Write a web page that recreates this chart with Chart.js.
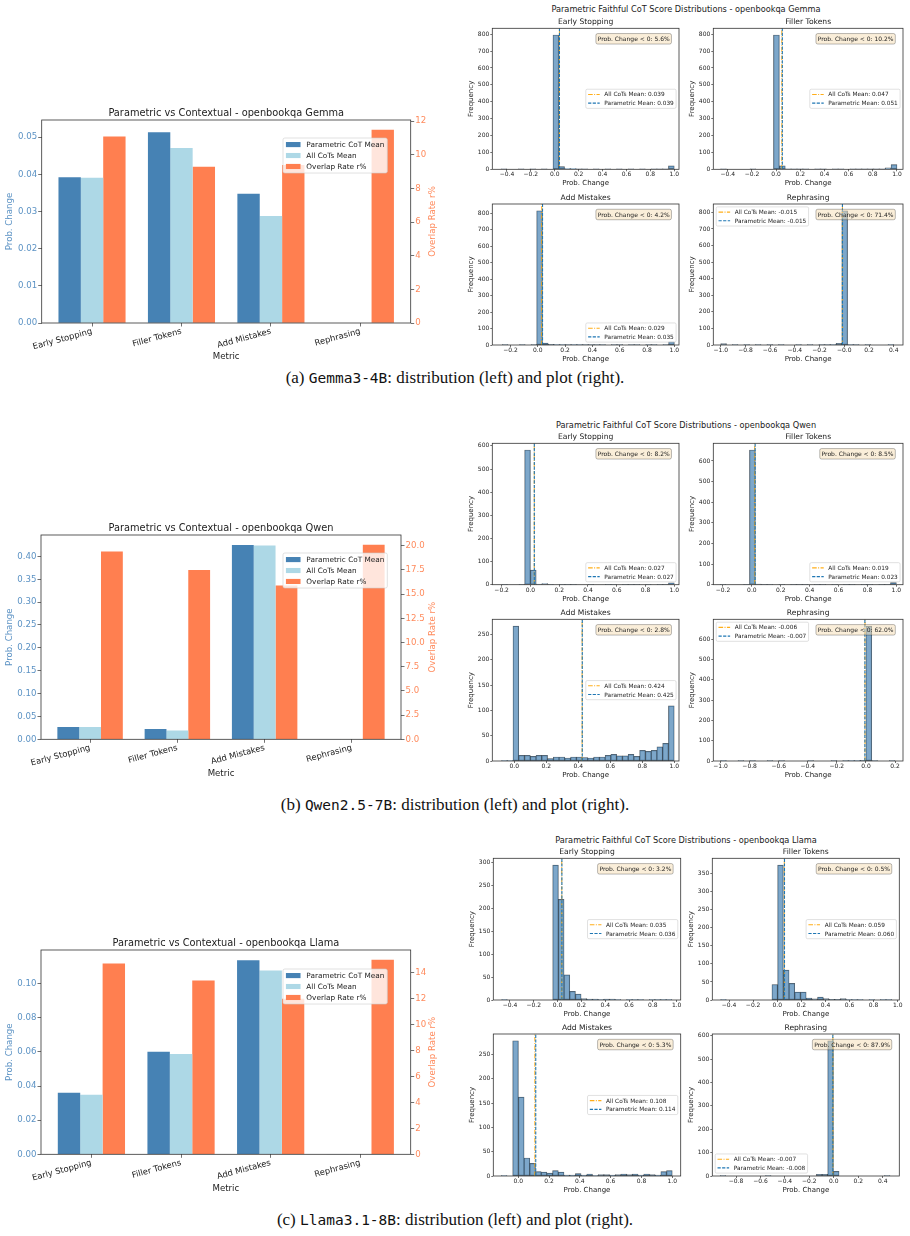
<!DOCTYPE html>
<html>
<head>
<meta charset="utf-8">
<script src="https://cdn.jsdelivr.net/npm/chart.js@4.4.0/dist/chart.umd.min.js"></script>
<style>
  body { margin: 0; background: #fff; width: 910px; height: 1236px; position: relative; overflow: hidden; }
  .sup { position: absolute; font: 8.2px "DejaVu Sans"; color: #222; white-space: nowrap; transform: translate(-50%, -50%); }
  .cap { position: absolute; left: 0; width: 910px; text-align: center; font: 17px "Liberation Serif"; line-height: 20px; color: #111; }
  .mono { font-family: "DejaVu Sans Mono"; font-size: 14.5px; }
</style>
</head>
<body>
<div class="sup" style="left:686px;top:9px">Parametric Faithful CoT Score Distributions - openbookqa Gemma</div>
<div class="sup" style="left:686px;top:425px">Parametric Faithful CoT Score Distributions - openbookqa Qwen</div>
<div class="sup" style="left:686px;top:840px">Parametric Faithful CoT Score Distributions - openbookqa Llama</div>
<div class="cap" style="top:368px">(a) <span class="mono">Gemma3-4B</span>: distribution (left) and plot (right).</div>
<div class="cap" style="top:795px">(b) <span class="mono">Qwen2.5-7B</span>: distribution (left) and plot (right).</div>
<div class="cap" style="top:1210px">(c) <span class="mono">Llama3.1-8B</span>: distribution (left) and plot (right).</div>

<script>
const metrics = ["Early Stopping", "Filler Tokens", "Add Mistakes", "Rephrasing"];

// means per metric (bar charts + mean lines of the histograms)
const gemmaParam = [0.0392, 0.0513, 0.0348, -0.0151];
const gemmaAll = [0.0391, 0.0471, 0.0288, -0.0149];
const gemmaOverlap = [11.1, 9.3, 9.4, 11.5];
const gemmaNeg = [5.6, 10.2, 4.2, 71.4];

const qwenParam = [0.0271, 0.0226, 0.4252, -0.0072];
const qwenAll = [0.0268, 0.0194, 0.4241, -0.0062];
const qwenOverlap = [19.4, 17.5, 15.9, 20.1];
const qwenNeg = [8.2, 8.5, 2.8, 62.0];

const llamaParam = [0.0361, 0.0601, 0.1137, -0.0078];
const llamaAll = [0.0349, 0.0588, 0.1078, -0.0072];
const llamaOverlap = [14.7, 13.4, 12.0, 15.0];
const llamaNeg = [3.2, 0.5, 5.3, 87.9];

// histogram counts, 30 bins each
const gemmaEarly = [1,0,0,1,0,1,0,1,0,795,16,5,5,1,1,0,1,0,1,0,1,0,1,0,1,0,1,1,1,20];
const gemmaFiller = [1,0,0,0,0,1,0,0,0,795,20,2,1,1,1,0,1,1,0,1,1,0,1,1,1,1,1,1,8,28];
const gemmaMistakes = [1,0,0,1,0,1,815,12,4,2,2,1,2,2,1,1,1,1,0,1,1,0,1,1,0,1,1,0,1,20];
const gemmaRephrase = [8,0,1,0,1,0,1,0,1,0,1,0,0,1,0,1,0,1,1,2,10,810,3,1,0,1,0,0,0,2];

const qwenEarly = [1,0,0,1,582,63,3,5,1,0,1,1,1,0,0,1,0,0,1,1,0,1,1,1,0,1,0,1,2,8];
const qwenFiller = [1,0,0,0,1,653,3,1,1,0,1,0,1,1,2,0,1,1,0,1,0,1,1,0,1,1,0,1,2,10];
const qwenMistakes = [1,1,267,11,11,9,11,11,5,8,8,6,8,8,7,6,8,8,11,13,10,10,13,9,21,19,21,28,35,109];
const qwenRephrase = [2,0,0,1,0,1,0,0,1,0,1,0,0,0,0,1,0,0,0,1,0,1,2,2,3,665,1,0,0,1];

const llamaEarly = [1,0,0,0,0,0,0,0,0,295,220,55,19,13,3,2,2,1,2,2,1,0,1,1,1,0,1,1,1,1];
const llamaFiller = [1,0,0,0,0,0,0,0,0,43,374,83,46,22,22,5,3,8,4,2,2,4,1,1,1,0,1,0,1,1];
const llamaMistakes = [1,0,278,162,37,26,9,8,6,11,8,2,2,5,2,4,1,3,3,2,3,4,3,4,2,4,3,2,9,11];
const llamaRephrase = [1,0,0,0,0,0,0,0,1,0,0,0,0,0,0,0,0,7,7,578,20,0,0,0,0,0,0,0,0,1];

// bin range and x limits of each histogram
const gemmaBinLo = [-0.45, -0.46, -0.26, -1.0];
const gemmaBinHi = [1.0, 1.0, 1.0, 0.4];
const gemmaXMin = [-0.523, -0.52, -0.333, -1.06];
const gemmaXMax = [1.04, 1.05, 1.034, 0.475];

const qwenBinLo = [-0.2, -0.22, -0.08, -1.0];
const qwenBinHi = [1.0, 1.0, 1.0, 0.2];
const qwenXMin = [-0.265, -0.267, -0.1375, -1.05];
const qwenXMax = [1.033, 1.046, 1.03, 0.255];

const llamaBinLo = [-0.47, -0.47, -0.11, -0.93];
const llamaBinHi = [0.96, 0.95, 1.0, 0.46];
const llamaXMin = [-0.54, -0.539, -0.162, -0.994];
const llamaXMax = [1.034, 1.013, 1.055, 0.536];

Chart.defaults.font.family = '"DejaVu Sans"';
Chart.defaults.color = "#222";

const DASHED = [3.2, 1.4];
const DASHDOT = [4.6, 1.4, 1, 1.4];

function makeCanvas(x, y, w, h) {
  const c = document.createElement("canvas");
  c.width = w;
  c.height = h;
  c.style.cssText = `position:absolute;left:${x}px;top:${y}px;width:${w}px;height:${h}px`;
  document.body.appendChild(c);
  return c;
}

function stepTicks(min, max, step) {
  const out = [];
  for (let k = Math.ceil(min / step - 1e-9); k * step <= max + 1e-9; k++) {
    out.push({ value: Math.round(k * step * 1e6) / 1e6 });
  }
  return out;
}

function roundRect(ctx, x, y, w, h, r) {
  ctx.beginPath();
  ctx.moveTo(x + r, y);
  ctx.arcTo(x + w, y, x + w, y + h, r);
  ctx.arcTo(x + w, y + h, x, y + h, r);
  ctx.arcTo(x, y + h, x, y, r);
  ctx.arcTo(x, y, x + w, y, r);
  ctx.closePath();
}

function drawLegend(ctx, area, lg) {
  const fs = lg.fs;
  ctx.font = `${fs}px "DejaVu Sans"`;
  const tw = Math.max(...lg.items.map(it => ctx.measureText(it.label).width));
  const bp = 0.4 * fs, hl = 2 * fs, hp = 0.8 * fs, rowH = fs, ls = 0.5 * fs, pad = 0.5 * fs;
  const w = 2 * bp + hl + hp + tw;
  const h = 2 * bp + lg.items.length * rowH + (lg.items.length - 1) * ls;
  let x, y;
  if (lg.pos) { x = lg.pos.x; y = lg.pos.y; }
  else {
    const loc = lg.loc;
    x = loc.endsWith("l") ? area.left + pad : area.right - pad - w;
    if (loc[0] === "u") y = area.top + pad;
    else if (loc[0] === "l") y = area.bottom - pad - h;
    else y = (area.top + area.bottom) / 2 - h / 2;
  }
  roundRect(ctx, x, y, w, h, 0.25 * fs);
  ctx.fillStyle = "rgba(255,255,255,0.8)";
  ctx.fill();
  ctx.strokeStyle = "#ccc";
  ctx.lineWidth = 0.6;
  ctx.stroke();
  lg.items.forEach((it, i) => {
    const cy = y + bp + i * (rowH + ls) + rowH / 2;
    if (it.fill) {
      ctx.fillStyle = it.fill;
      ctx.fillRect(x + bp, cy - 0.35 * fs, hl, 0.7 * fs);
    } else {
      ctx.strokeStyle = it.color;
      ctx.lineWidth = 1.1;
      ctx.setLineDash(it.dash);
      ctx.beginPath();
      ctx.moveTo(x + bp, cy);
      ctx.lineTo(x + bp + hl, cy);
      ctx.stroke();
      ctx.setLineDash([]);
    }
    ctx.fillStyle = "#222";
    ctx.textAlign = "left";
    ctx.textBaseline = "middle";
    ctx.fillText(it.label, x + bp + hl + hp, cy + 0.5);
  });
}

function drawTextBox(ctx, area, text, fs) {
  ctx.font = `${fs}px "DejaVu Sans"`;
  const tw = ctx.measureText(text).width;
  const xr = area.right - 0.05 * (area.right - area.left);
  const yt = area.top + 0.05 * (area.bottom - area.top);
  const p = 0.3 * fs, th = fs * 1.15;
  roundRect(ctx, xr - tw - p, yt - p, tw + 2 * p, th + 2 * p, p);
  ctx.fillStyle = "rgba(245,222,179,0.5)";
  ctx.fill();
  ctx.strokeStyle = "rgba(0,0,0,0.45)";
  ctx.lineWidth = 0.6;
  ctx.stroke();
  ctx.fillStyle = "#222";
  ctx.textAlign = "right";
  ctx.textBaseline = "middle";
  ctx.fillText(text, xr, yt + th / 2 + 0.5);
}

function extras(cfg) {
  return {
    id: "extras",
    afterDraw(chart) {
      const ctx = chart.ctx, a = chart.chartArea;
      ctx.save();
      ctx.strokeStyle = "#333";
      ctx.lineWidth = 0.8;
      ctx.strokeRect(a.left, a.top, a.right - a.left, a.bottom - a.top);
      if (cfg.box) drawTextBox(ctx, a, cfg.box, 6);
      if (cfg.legend) drawLegend(ctx, a, cfg.legend);
      if (cfg.rightTitle) {
        ctx.translate(cfg.rightTitle.x, (a.top + a.bottom) / 2);
        ctx.rotate(-Math.PI / 2);
        ctx.font = `${cfg.rightTitle.fs}px "DejaVu Sans"`;
        ctx.fillStyle = cfg.rightTitle.color;
        ctx.textAlign = "center";
        ctx.textBaseline = "middle";
        ctx.fillText(cfg.rightTitle.text, 0, 0);
      }
      ctx.restore();
    }
  };
}

function fmt(v, d, negZero) {
  let s = v.toFixed(d);
  if (negZero && Math.abs(v) < 1e-9) s = "-" + s;
  return s.replace("-", "\u2212");
}

function histData(counts, lo, hi) {
  const w = (hi - lo) / counts.length;
  return counts.map((c, i) => ({ x: lo + (i + 0.5) * w, y: c }));
}

const tickGrid = { drawOnChartArea: false, drawTicks: true, tickLength: 2, color: "#333", lineWidth: 0.7, offset: false };

function histogram(box, o) {
  const cx = Math.floor(box.l - 34), cy = Math.floor(box.t - 21);
  const cw = Math.ceil(box.r + 4) - cx, ch = Math.ceil(box.b + 23) - cy;
  const canvas = makeCanvas(cx, cy, cw, ch);
  const leftW = box.l - cx, topH = box.t - cy, bottomH = cy + ch - box.b;
  const yMax = Math.max(...o.counts) * 1.05;
  const yStep = yMax < 400 ? 50 : 100;
  const tLH = 7.6 * 1.2;
  new Chart(canvas, {
    type: "bar",
    data: {
      datasets: [
        { type: "line", data: [{ x: o.param, y: 0 }, { x: o.param, y: yMax }], borderColor: "#1f77b4",
          borderDash: DASHED, borderWidth: 1.1, pointRadius: 0, order: 1 },
        { type: "line", data: [{ x: o.all, y: 0 }, { x: o.all, y: yMax }], borderColor: "rgba(255,165,0,0.85)",
          borderDash: DASHDOT, borderWidth: 1.1, pointRadius: 0, order: 2 },
        { data: histData(o.counts, o.lo, o.hi), backgroundColor: "rgba(70,130,180,0.7)",
          borderColor: "rgba(0,0,0,0.65)", borderWidth: 0.5, borderSkipped: false,
          barPercentage: 1, categoryPercentage: 1, order: 3 }
      ]
    },
    options: {
      responsive: false, animation: false, devicePixelRatio: 1,
      layout: { autoPadding: false, padding: { left: 0, right: cx + cw - box.r, top: 0, bottom: 0 } },
      plugins: {
        legend: { display: false }, tooltip: { enabled: false },
        title: { display: true, text: o.title, fullSize: false, font: { size: 7.6, weight: "normal" },
          color: "#222", padding: { top: topH - 6 - tLH / 2, bottom: 6 - tLH / 2 } }
      },
      scales: {
        x: {
          type: "linear", min: o.xMin, max: o.xMax, offset: false,
          border: { display: false }, grid: tickGrid,
          afterBuildTicks: s => { s.ticks = stepTicks(o.xMin, o.xMax, 0.2); },
          ticks: { font: { size: 6 }, padding: 0, maxRotation: 0, autoSkip: false,
            callback: v => fmt(v, 1, o.negZero) },
          title: { display: true, text: "Prob. Change", font: { size: 7 }, padding: { top: 0, bottom: bottomH - 14 - 4.2 } },
          afterFit: s => { s.height = bottomH; }
        },
        y: {
          min: 0, max: yMax,
          border: { display: false }, grid: tickGrid,
          afterBuildTicks: s => { s.ticks = stepTicks(0, yMax, yStep); },
          ticks: { font: { size: 6 }, padding: 1, autoSkip: false },
          title: { display: true, text: "Frequency", font: { size: 7 }, padding: { top: leftW - 21 - 4.2, bottom: 0 } },
          afterFit: s => { s.width = leftW; }
        }
      }
    },
    plugins: [extras({
      box: "Prob. Change < 0: " + o.neg.toFixed(1) + "%",
      legend: {
        fs: 5.8, loc: o.loc,
        items: [
          { label: "All CoTs Mean: " + o.all.toFixed(3), color: "rgba(255,165,0,0.9)", dash: DASHDOT },
          { label: "Parametric Mean: " + o.param.toFixed(3), color: "#1f77b4", dash: DASHED }
        ]
      }
    })]
  });
}

function barChart(box, o) {
  const cx = 0, cy = Math.floor(box.t - 22);
  const cw = 460, ch = Math.ceil(box.b + 44) - cy;
  const canvas = makeCanvas(cx, cy, cw, ch);
  const topH = box.t - cy, bottomH = cy + ch - box.b;
  const lo = Math.min(0, ...o.param, ...o.all), hi = Math.max(...o.param, ...o.all);
  const yMax = hi + 0.05 * (hi - lo);
  const y2Max = Math.max(...o.overlap) * 1.05;
  const tLH = 9.8 * 1.2, aLH = 8.6 * 1.2;
  const pts = arr => arr.map((v, i) => ({ x: i, y: v }));
  const blueTxt = "#5b92c4", orangeTxt = "#ff8a5c";
  new Chart(canvas, {
    type: "bar",
    data: {
      datasets: [
        { label: "Parametric CoT Mean", data: pts(o.param), backgroundColor: "#4682B4", yAxisID: "y" },
        { label: "All CoTs Mean", data: pts(o.all), backgroundColor: "#ADD8E6", yAxisID: "y" },
        { label: "Overlap Rate r%", data: pts(o.overlap), backgroundColor: "#FF7F50", yAxisID: "y2" }
      ].map(d => Object.assign(d, { barPercentage: 1, categoryPercentage: 0.75, clip: 0, borderWidth: 0 }))
    },
    options: {
      responsive: false, animation: false, devicePixelRatio: 1,
      layout: { autoPadding: false, padding: 0 },
      plugins: {
        legend: { display: false }, tooltip: { enabled: false },
        title: { display: true, text: o.title, fullSize: false, font: { size: 9.8, weight: "normal" },
          color: "#222", padding: { top: topH - 7 - tLH / 2, bottom: 7 - tLH / 2 } }
      },
      scales: {
        x: {
          type: "linear", min: -0.5625, max: 3.5625, offset: false,
          border: { display: false }, grid: Object.assign({}, tickGrid, { tickLength: 3.5 }),
          afterBuildTicks: s => { s.ticks = metrics.map((m, i) => ({ value: i })); },
          ticks: { callback: v => metrics[v], minRotation: 15, maxRotation: 15, autoSkip: false,
            font: { size: 8.4 }, padding: 0 },
          title: { display: true, text: "Metric", font: { size: 8.6 }, padding: { top: 0, bottom: bottomH - 34 - aLH / 2 } },
          afterFit: s => { s.height = bottomH; }
        },
        y: {
          position: "left", min: 0, max: yMax,
          border: { display: false }, grid: Object.assign({}, tickGrid, { tickLength: 3.5 }),
          afterBuildTicks: s => { s.ticks = stepTicks(0, yMax, o.yStep); },
          ticks: { font: { size: 8.6 }, color: blueTxt, padding: 1, autoSkip: false,
            callback: v => v.toFixed(2) },
          title: { display: true, text: "Prob. Change", font: { size: 8.6 }, color: blueTxt,
            padding: { top: 10 - aLH / 2, bottom: 0 } },
          afterFit: s => { s.width = box.l; }
        },
        y2: {
          position: "right", min: 0, max: y2Max,
          border: { display: false }, grid: Object.assign({}, tickGrid, { tickLength: 3.5 }),
          afterBuildTicks: s => { s.ticks = stepTicks(0, y2Max, o.y2Step); },
          ticks: { font: { size: 8.6 }, color: orangeTxt, padding: 1, autoSkip: false,
            callback: v => v.toFixed(o.y2Dec) },
          afterFit: s => { s.width = cw - box.r; }
        }
      }
    },
    plugins: [extras({
      legend: {
        fs: 7.3, pos: { x: o.legend.x - cx, y: o.legend.y - cy },
        items: [
          { label: "Parametric CoT Mean", fill: "#4682B4" },
          { label: "All CoTs Mean", fill: "#ADD8E6" },
          { label: "Overlap Rate r%", fill: "#FF7F50" }
        ]
      },
      rightTitle: { text: "Overlap Rate r%", x: 432.7 - cx, fs: 8.6, color: orangeTxt }
    })]
  });
}

// ---- layout (page pixels of each plot area) ----
const rows = [
  {
    name: "Gemma", param: gemmaParam, all: gemmaAll, overlap: gemmaOverlap, neg: gemmaNeg,
    hists: [gemmaEarly, gemmaFiller, gemmaMistakes, gemmaRephrase],
    binLo: gemmaBinLo, binHi: gemmaBinHi, xMin: gemmaXMin, xMax: gemmaXMax,
    locs: ["cr", "cr", "lr", "ul"], negZero: [false, false, false, true],
    bar: { l: 41.7, t: 120, r: 410.7, b: 323 }, yStep: 0.01, y2Step: 2, y2Dec: 0, legend: { x: 283, y: 138 },
    boxes: [{ l: 492.3, t: 28.3, r: 679, b: 169.3 }, { l: 713.3, t: 28.3, r: 903, b: 169.3 },
            { l: 492.3, t: 204, r: 679, b: 345 }, { l: 713.3, t: 204, r: 903, b: 345 }]
  },
  {
    name: "Qwen", param: qwenParam, all: qwenAll, overlap: qwenOverlap, neg: qwenNeg,
    hists: [qwenEarly, qwenFiller, qwenMistakes, qwenRephrase],
    binLo: qwenBinLo, binHi: qwenBinHi, xMin: qwenXMin, xMax: qwenXMax,
    locs: ["lr", "lr", "cr", "ul"], negZero: [false, false, false, false],
    bar: { l: 41, t: 535, r: 401, b: 739.3 }, yStep: 0.05, y2Step: 2.5, y2Dec: 1, legend: { x: 283, y: 553 },
    boxes: [{ l: 492.3, t: 443.3, r: 679, b: 584.7 }, { l: 713.3, t: 443.3, r: 903, b: 584.7 },
            { l: 492.3, t: 619.3, r: 679, b: 761 }, { l: 713.3, t: 619.3, r: 903, b: 761 }]
  },
  {
    name: "Llama", param: llamaParam, all: llamaAll, overlap: llamaOverlap, neg: llamaNeg,
    hists: [llamaEarly, llamaFiller, llamaMistakes, llamaRephrase],
    binLo: llamaBinLo, binHi: llamaBinHi, xMin: llamaXMin, xMax: llamaXMax,
    locs: ["cr", "cr", "cr", "ll"], negZero: [false, false, false, false],
    bar: { l: 41, t: 950, r: 410.7, b: 1154.3 }, yStep: 0.02, y2Step: 2, y2Dec: 0, legend: { x: 283, y: 969 },
    boxes: [{ l: 493.3, t: 858.3, r: 680.7, b: 1000 }, { l: 712.3, t: 858.3, r: 899.3, b: 1000 },
            { l: 493.3, t: 1034, r: 680.7, b: 1176 }, { l: 712.3, t: 1034, r: 899.3, b: 1176 }]
  }
];

rows.forEach(row => {
  barChart(row.bar, {
    title: "Parametric vs Contextual - openbookqa " + row.name,
    param: row.param, all: row.all, overlap: row.overlap,
    yStep: row.yStep, y2Step: row.y2Step, y2Dec: row.y2Dec, legend: row.legend
  });
  metrics.forEach((m, i) => {
    histogram(row.boxes[i], {
      title: m, counts: row.hists[i], lo: row.binLo[i], hi: row.binHi[i],
      xMin: row.xMin[i], xMax: row.xMax[i], param: row.param[i], all: row.all[i],
      neg: row.neg[i], loc: row.locs[i], negZero: row.negZero[i]
    });
  });
});
</script>
</body>
</html>
